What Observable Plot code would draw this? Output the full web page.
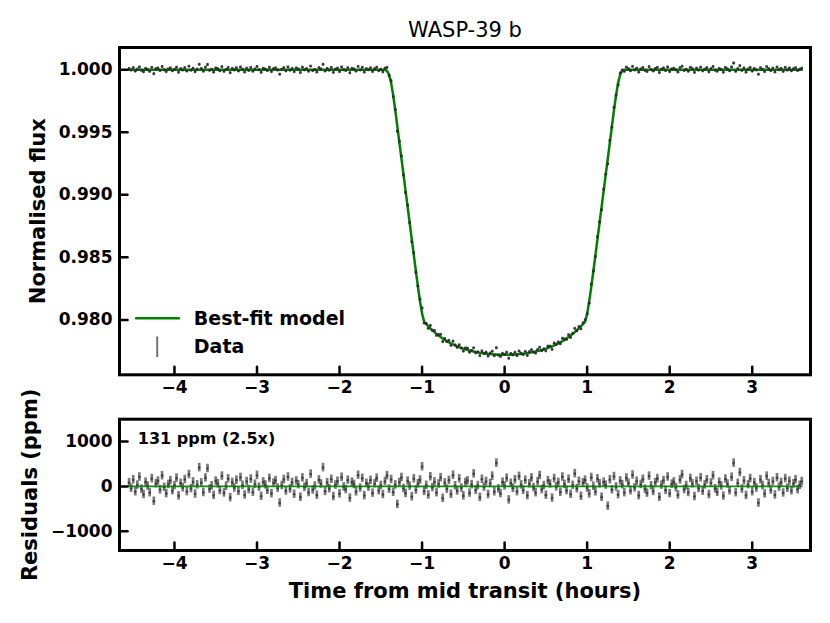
<!DOCTYPE html>
<html><head><meta charset="utf-8">
<script src="https://cdn.jsdelivr.net/npm/d3@7"></script>
<script src="https://cdn.jsdelivr.net/npm/@observablehq/plot@0.6"></script>
<style>
html,body{margin:0;padding:0;background:#fff;overflow:hidden;}
#chart{position:relative;width:830px;height:623px;overflow:hidden;background:#fff;}
#chart svg{position:absolute;left:0;}
</style></head><body><div id="chart"></div>
<script>
// ---- tick labels ----
const xTicks = [-4, -3, -2, -1, 0, 1, 2, 3];
const fluxTicks = [0.980, 0.985, 0.990, 0.995, 1.000];
const residualTicks = [-1000, 0, 1000];

// ---- observation cadence ----
const firstTime = -4.55;   // hours from mid transit
const cadence = 0.025;     // hours between exposures
const errorPpm = 95;       // per-point uncertainty

// ---- best-fit model transit depth (ppm) during transit, from t = -1.425 h ----
const modelDepthPpm = [
  80, 398, 1045, 2040, 3234, 4532, 5819, 7104, 8391, 9677, 10964, 12250, 13537, 14824, 16109, 17363, 18507, 19502, 20149,
  20332, 20507, 20672, 20828, 20977, 21115, 21245, 21369, 21484, 21593, 21694, 21790, 21879, 21962, 22040, 22112, 22180, 22242, 22301, 22355,
  22404, 22450, 22492, 22531, 22567, 22598, 22628, 22654, 22678, 22699, 22718, 22734, 22748, 22760, 22769, 22777, 22782, 22785,
  22786,
  22785, 22782, 22777, 22769, 22760, 22748, 22734, 22718, 22699, 22678, 22654, 22628, 22598, 22567, 22531, 22492, 22450, 22404,
  22355, 22301, 22242, 22180, 22112, 22040, 21962, 21879, 21790, 21694, 21593, 21484, 21369, 21245, 21115, 20977, 20828, 20672, 20507, 20332,
  20149, 19502, 18507, 17363, 16109, 14824, 13537, 12250, 10964, 9677, 8391, 7104, 5819, 4532, 3234, 2040, 1045, 398, 80
];

// ---- residuals (ppm): before, during and after transit ----
const preTransitResidualsPpm = [
  85, -40, 150, -120, 30, 210, -60, -180, 95, 10, -140, 175, -330, 60, 120, -75, 240, -20, -160, 45,
  130, -95, 20, 185, -210, 70, -30, 155, -115, 265, -50, 100, -170, 35, 420, 80, -135, 190, 400, -60,
  15, -200, 120, 60, -90, 230, -145, 5, 170, -250, 90, -35, 140, -110, 200, 25, -190, 110, -70, 165,
  -130, 50, 245, -15, -220, 100, 35, -85, 180, -160, 75, 130, -40, -370, 20, 155, -100, 210, -55, 90,
  -175, 125, 40, -240, 190, -20, 65, -135, 275, -80, 10, -195, 145, 55, 420, -110, 85, -50, 160, -225,
  30, 115, -165, 205, -10, -70, 140, -260, 95, 45, -120, 250, -35, 180, -205, 70, -15, 135, -150, 60,
  185, -95, 20, -180, 110
];
const inTransitResidualsPpm = [
  240, -60, 155, -130, 35, -400, 90, 200, -45, -155, 120, 5, -230, 170, -80,
  60, 145, 440, -110, 25, -190, 215, -25, 100, -140, 55, 195, -265, 80, -60, 135, -175, 250, 15, -100,
  170, -35, -210, 90, 125, -150, 40, 280, -85, 20, -245, 160, -15, 110, -180, 65, 230, -120, 520, -55,
  -160, 95, 10, 185, -300, 70, -40, 150, -115, 225, 35, -85, 140, -205, 60, 190, -25, -140, 105, 245,
  -70, 20, -195, 130, 55, -260, 175, -10, 90, -130, 210, 45, -90, 160, -175, 25, 285, -50, 115, -220,
  80, 140, -35, -165, 200, 5, -120, 170, 60, -240, 95, 30, -440, 150, -75, 220, -10, -185, 125, 40
];
const postTransitResidualsPpm = [
  -140, 190, 70, -95, 255, -30, 115, -205, 45, 160, -60, -150, 230, 15, -110, 85, 175, -240, 30, 130,
  -85, 210, -160, 50, 100, -25, -190, 145, 265, -70, 20, -135, 180, 60, -225, 115, -45, 195, -105, 35,
  150, -180, 75, 240, -50, -130, 95, 10, -215, 165, 55, -95, 205, 520, -140, 70, 310, -60, 125, -200,
  40, 175, -120, 85, -35, -370, 150, 20, -165, 230, 65, -80, 110, -190, 195, -15, 90, -145, 175, -40,
  120, -95, 60, 150, -70, 25, 110
];

// ---- legend / annotation text ----
const titleText = "WASP-39 b";
const fluxLabel = "Normalised flux";
const residualLabel = "Residuals (ppm)";
const timeLabel = "Time from mid transit (hours)";
const modelLegend = "Best-fit model";
const dataLegend = "Data";
const scatterNote = "131 ppm (2.5x)";

// ---- build table ----
const residualsPpm = [...preTransitResidualsPpm, ...inTransitResidualsPpm, ...postTransitResidualsPpm];
const transitStart = preTransitResidualsPpm.length;
const points = residualsPpm.map((r, i) => {
  const j = i - transitStart;
  const depth = (j >= 0 && j < modelDepthPpm.length) ? modelDepthPpm[j] : 0;
  const model = 1 - depth / 1e6;
  return {t: firstTime + i * cadence, model, flux: model + r / 1e6, resid: r};
});

const green = "#008000";
const dataColor = "#2a2a2a";
const fmtMinus = v => v < 0 ? "\u2212" + Math.abs(v) : String(v);
const tickShape = {draw(ctx, l) { ctx.moveTo(0, 0); ctx.lineTo(0, -l); }};
const baseStyle = {fontFamily: "'DejaVu Sans', sans-serif", fontSize: "17px", fontWeight: "bold", color: "black", background: "white", overflow: "visible"};
const xDomain = [-4.666, 3.706];

const topPlot = Plot.plot({
  width: 830, height: 405,
  marginTop: 47, marginBottom: 30.7, marginLeft: 119, marginRight: 20,
  x: {domain: xDomain},
  y: {domain: [0.97561, 1.00178]},
  style: baseStyle,
  marks: [
    Plot.line(points, {x: "t", y: "model", stroke: green, strokeWidth: 2.5}),
    Plot.ruleX(points, {x: "t", y1: d => d.flux - errorPpm / 1e6, y2: d => d.flux + errorPpm / 1e6, stroke: dataColor, strokeOpacity: 0.75, strokeWidth: 2.2}),
    Plot.dot(points, {x: "t", y: "flux", r: 1.4, fill: dataColor, fillOpacity: 0.8}),
    Plot.vector(xTicks, {x: d => d, frameAnchor: "bottom", length: 8, anchor: "start", shape: tickShape, stroke: "black", strokeWidth: 2.5}),
    Plot.vector(fluxTicks, {y: d => d, frameAnchor: "left", length: 8, rotate: 90, anchor: "start", shape: tickShape, stroke: "black", strokeWidth: 2.5}),
    Plot.axisX({ticks: xTicks, tickSize: 0, tickPadding: 6, tickFormat: fmtMinus, label: null}),
    Plot.axisY({ticks: fluxTicks, tickSize: 0, tickPadding: 7, tickFormat: d3.format(".3f"), label: null}),
    Plot.frame({stroke: "black", strokeWidth: 3}),
    Plot.text([titleText], {frameAnchor: "top", dy: -17.5, lineAnchor: "middle", textAnchor: "middle", text: d => d, fontSize: 21, fontWeight: "normal"}),
    Plot.text([fluxLabel], {frameAnchor: "left", dx: -81.7, rotate: -90, lineAnchor: "middle", textAnchor: "middle", text: d => d, fontSize: 21, fontWeight: "bold"}),
    Plot.vector([modelLegend], {frameAnchor: "bottom-left", dx: 16.7, dy: -56.6, rotate: 90, length: 42.6, anchor: "start", shape: tickShape, stroke: green, strokeWidth: 2.5}),
    Plot.vector([dataLegend], {frameAnchor: "bottom-left", dx: 37.7, dy: -28.1, length: 19, anchor: "middle", shape: tickShape, stroke: "black", strokeOpacity: 0.55, strokeWidth: 2}),
    Plot.text([modelLegend], {frameAnchor: "bottom-left", dx: 74.3, dy: -55.5, lineAnchor: "middle", text: d => d, textAnchor: "start", fontSize: 19, fontWeight: "bold"}),
    Plot.text([dataLegend], {frameAnchor: "bottom-left", dx: 74.3, dy: -28, lineAnchor: "middle", text: d => d, textAnchor: "start", fontSize: 19, fontWeight: "bold"})
  ]
});

const bottomPlot = Plot.plot({
  width: 830, height: 218,
  marginTop: 13.7, marginBottom: 73, marginLeft: 119, marginRight: 20,
  x: {domain: xDomain},
  y: {domain: [-1430, 1500]},
  style: baseStyle,
  marks: [
    Plot.ruleX(points, {x: "t", y1: d => d.resid - errorPpm, y2: d => d.resid + errorPpm, stroke: dataColor, strokeOpacity: 0.62, strokeWidth: 2.7}),
    Plot.dot(points, {x: "t", y: "resid", r: 1.3, fill: dataColor, fillOpacity: 0.75}),
    Plot.line(points, {x: "t", y: d => 0, stroke: green, strokeWidth: 1.8, strokeOpacity: 0.9}),
    Plot.vector(xTicks, {x: d => d, frameAnchor: "bottom", length: 8, anchor: "start", shape: tickShape, stroke: "black", strokeWidth: 2.5}),
    Plot.vector(residualTicks, {y: d => d, frameAnchor: "left", length: 8, rotate: 90, anchor: "start", shape: tickShape, stroke: "black", strokeWidth: 2.5}),
    Plot.axisX({ticks: xTicks, tickSize: 0, tickPadding: 6, tickFormat: fmtMinus, label: null}),
    Plot.axisY({ticks: residualTicks, tickSize: 0, tickPadding: 7, tickFormat: fmtMinus, label: null}),
    Plot.frame({stroke: "black", strokeWidth: 3}),
    Plot.text([scatterNote], {frameAnchor: "top-left", dx: 18.3, dy: 20, lineAnchor: "middle", text: d => d, textAnchor: "start", fontSize: 16, fontWeight: "bold"}),
    Plot.text([residualLabel], {frameAnchor: "left", dx: -89.7, rotate: -90, lineAnchor: "middle", textAnchor: "middle", text: d => d, fontSize: 21, fontWeight: "bold"}),
    Plot.text([timeLabel], {frameAnchor: "bottom", dy: 41, lineAnchor: "middle", textAnchor: "middle", text: d => d, fontSize: 21, fontWeight: "bold"})
  ]
});

topPlot.style.top = "0px";
bottomPlot.style.top = "405px";
const chart = document.getElementById("chart");
chart.appendChild(topPlot);
chart.appendChild(bottomPlot);
</script></body></html>
